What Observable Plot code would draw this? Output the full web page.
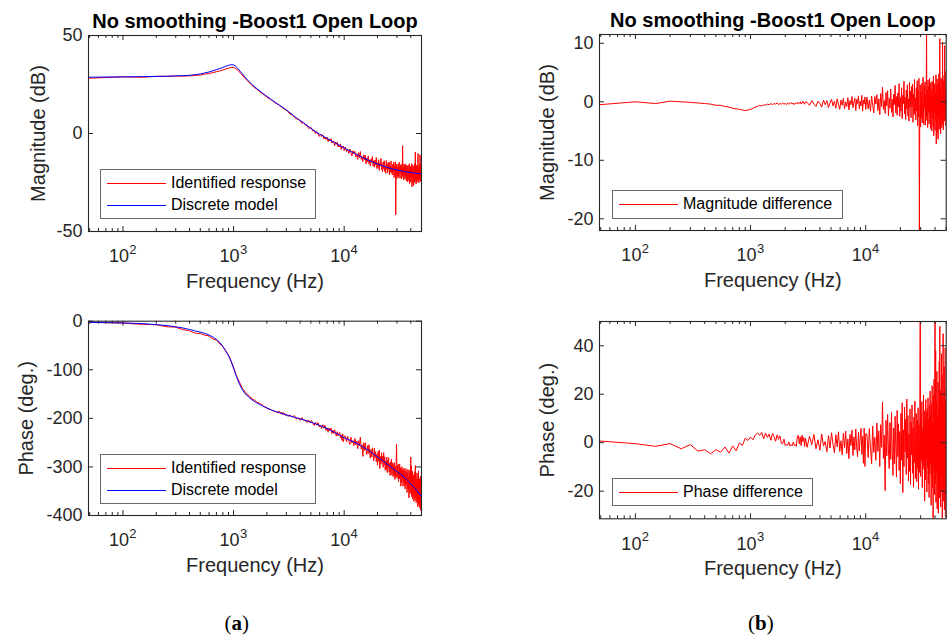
<!DOCTYPE html>
<html><head><meta charset="utf-8">
<script src="https://cdn.jsdelivr.net/npm/d3@7"></script>
<script src="https://cdn.jsdelivr.net/npm/@observablehq/plot@0.6"></script>
<style>
body{margin:0;background:#fff;}
#wrap{position:relative;width:948px;height:639px;overflow:hidden;background:#fff;font-family:'Liberation Sans',Arial,sans-serif;color:#262626;}
.panel{position:absolute;}
.legend{position:absolute;box-sizing:border-box;border:1px solid #6a6a6a;background:#fff;}
.row{position:absolute;left:0;height:20px;white-space:nowrap;font-size:16px;line-height:20px;color:#000;}
.row svg{position:absolute;left:6px;top:0;}
.row span{position:absolute;left:70px;top:0;}
.cap{position:absolute;transform:translate(-50%,-50%);font-family:'Liberation Serif','Times New Roman',serif;font-size:21px;color:#000;}
</style></head><body><div id="wrap"></div>
<script>
// ---------------- data ----------------
const title = "No smoothing -Boost1 Open Loop";
const xMajor = [100, 1000, 10000];
const xMinor = [50,60,70,80,90,200,300,400,500,600,700,800,900,2000,3000,4000,5000,6000,7000,8000,9000,20000,30000,40000,50000];
const magTicks = [-50, 0, 50];
const magDiffTicks = [-20, -10, 0, 10];
const phaseTicks = [-400, -300, -200, -100, 0];
const phaseDiffTicks = [-20, 0, 20, 40];

const freq = [
48.8,100,150,200,250,300,350,400,450,500,550,600,650,700,750,800,850,900,950,1000,
1050,1100,1150,1200,1250,1300,1350,1400,1450,1500,1550,1600,1650,1700,1750,1800,1850,1900,1950,2000,
2050,2100,2150,2200,2250,2300,2350,2400,2450,2500,2550,2600,2650,2700,2750,2800,2850,2900,2950,3000,
3100,3250,3400,3550,3700,3850,4000,4150,4300,4450,4600,4750,4900,5050,5200,5350,5500,5650,5800,5950,
6100,6250,6400,6550,6700,6850,7000,7150,7300,7450,7600,7750,7900,8050,8200,8350,8500,8650,8800,8950,
9100,9250,9400,9550,9700,9850,10000,
10250,10500,10750,11000,11250,11500,11750,12000,12250,12500,
12750,13000,13250,13500,13750,14000,14250,14500,14750,15000,
15250,15500,15750,16000,16250,16500,16750,17000,17250,17500,
17750,18000,18250,18500,18750,19000,19250,19500,19750,20000,
20250,20500,20750,21000,21250,21500,21750,22000,22250,22500,
22750,23000,23250,23500,23750,24000,24250,24500,24750,25000,
25250,25500,25750,26000,26250,26500,26750,27000,27250,27500,
27750,28000,28250,28500,28750,29000,29250,29500,29750,30000,
30250,30500,30750,31000,31250,31500,31750,32000,32250,32500,
32750,33000,33250,33500,33750,34000,34250,34500,34750,35000,
35250,35500,35750,36000,36250,36500,36750,37000,37250,37500,
37750,38000,38250,38500,38750,39000,39250,39500,39750,40000,
40250,40500,40750,41000,41250,41500,41750,42000,42250,42500,
42750,43000,43250,43500,43750,44000,44250,44500,44750,45000,
45250,45500,45750,46000,46250,46500,46750,47000,47250,47500,
47750,48000,48250,48500,48750,49000,49250,49500,49750,50000
];

const magIdentified = [
28.2,28.9,28.7,29.2,29.2,29.3,29.3,29.4,29.6,29.8,
30.3,30.6,31.1,31.5,31.9,32.4,32.9,33.3,33.7,33.7,
33.1,32.1,30.9,29.8,28.5,27.6,26.5,25.8,24.8,24.2,
23.3,22.9,22.2,21.8,20.9,20.6,20.0,19.7,19.0,18.7,
18.0,17.9,17.3,17.0,16.8,16.1,16.0,15.3,15.3,14.8,
14.7,14.1,13.9,13.8,13.1,13.0,13.0,12.3,11.9,12.0,
11.1,9.8,9.8,8.4,7.3,7.4,6.4,5.1,5.7,4.3,
4.4,2.6,2.8,2.9,1.3,1.6,-0.1,1.0,-0.3,-1.5,
-0.3,-1.5,-0.6,-2.8,-1.9,-3.0,-1.8,-4.2,-2.9,-3.8,
-2.7,-4.9,-4.3,-3.8,-6.2,-4.5,-5.5,-4.4,-6.9,-5.8,
-6.8,-5.3,-8.2,-6.5,-7.4,-6.4,-8.7,
-6.9,-9.2,-8.0,-10.2,-7.9,-9.8,-11.4,-8.8,-10.4,-9.1,
-12.0,-10.3,-13.2,-9.8,-12.3,-9.2,-13.2,-11.9,-14.3,-10.9,
-13.4,-11.0,-15.5,-12.6,-14.5,-11.4,-15.5,-13.5,-16.6,-12.9,
-14.8,-11.7,-16.5,-13.9,-17.2,-13.5,-16.1,-12.2,-17.9,-14.9,
-17.3,-13.4,-18.8,-14.9,-16.4,-12.7,-18.4,-15.6,-19.5,-14.6,
-17.9,-13.9,-19.3,-16.5,-20.3,-13.8,-18.2,-15.5,-20.1,-14.8,
-18.3,-14.6,-21.1,-16.4,-19.7,-14.0,-20.1,-17.4,-21.1,-15.7,
-19.6,-14.6,-22.4,-16.4,-21.0,-14.4,-41.5,-19.0,-15.7,-22.9,
-17.1,-21.5,-15.6,-22.4,-17.9,-14.7,-20.9,-22.9,-16.3,-20.1,
-15.7,-23.1,-17.9,-21.7,-6.2,-22.4,-17.2,-23.7,-15.6,-21.2,
-16.8,-23.2,-15.5,-21.8,-18.7,-24.1,-16.3,-21.0,-17.4,-24.7,
-16.2,-22.4,-18.7,-24.0,-15.4,-25.6,-17.4,-21.8,-16.8,-24.8,
-18.4,-23.0,-15.4,-27.2,-17.2,-22.2,-16.2,-25.4,-19.2,-26.5,
-16.9,-22.7,-15.4,-24.9,-18.5,-9.4,-23.8,-17.8,-25.8,-16.2,
-23.2,-19.0,-24.7,-16.5,-22.1,-10.2,-24.3,-18.2,-25.2,-16.8,
-22.0,-15.9,-23.8,-10.9,-23.1,-18.7,-24.6,-15.3,-22.5,-20.0
];

const magDiff = [
-0.5,0.0,-0.3,0.1,0.0,-0.1,-0.2,-0.3,-0.4,-0.6,
-0.6,-0.8,-0.9,-1.1,-1.2,-1.3,-1.4,-1.5,-1.4,-1.3,
-1.1,-0.9,-0.8,-0.6,-0.7,-0.5,-0.6,-0.4,-0.5,-0.3,
-0.5,-0.3,-0.4,-0.2,-0.5,-0.3,-0.4,-0.2,-0.4,-0.3,
-0.5,-0.2,-0.4,-0.3,-0.1,-0.4,-0.2,-0.5,-0.2,-0.3,
-0.1,-0.4,-0.2,0.0,-0.4,-0.2,0.1,-0.3,-0.4,0.0,
-0.1,-0.6,0.2,-0.4,-0.8,0.1,-0.3,-0.9,0.3,-0.5,
0.2,-1.0,-0.2,0.4,-0.7,0.1,-1.1,0.5,-0.4,-1.3,
0.3,-0.6,0.6,-1.2,0.0,-0.8,0.7,-1.4,0.2,-0.5,
0.9,-1.0,-0.1,0.6,-1.5,0.4,-0.3,1.0,-1.2,0.1,
-0.7,1.1,-1.6,0.3,-0.4,0.8,-1.3,
0.8,-1.2,0.3,-1.6,1.0,-0.6,-1.9,0.9,-0.4,1.2,
-1.5,0.5,-2.2,1.4,-0.8,2.5,-1.3,0.2,-2.0,1.6,
-0.7,1.9,-2.4,0.6,-1.1,2.2,-1.8,0.4,-2.6,1.3,
-0.5,2.8,-1.9,0.9,-2.3,1.5,-0.9,3.1,-2.5,0.7,
-1.6,2.4,-2.9,1.1,-0.3,3.5,-2.1,0.8,-3.0,2.0,
-1.2,2.9,-2.4,0.5,-3.3,3.3,-1.0,1.8,-2.7,2.6,
-0.8,3.0,-3.5,1.3,-1.9,3.8,-2.2,0.6,-3.1,2.4,
-1.5,3.6,-4.1,1.9,-2.6,4.0,-23,-0.5,2.9,-4.3,
1.6,-2.8,3.2,-3.6,0.9,4.2,-2.0,-3.9,2.7,-1.1,
3.4,-4.0,1.2,-2.5,13,-3.2,2.1,-4.4,3.7,-1.8,
2.6,-3.8,4.0,-2.3,0.8,-4.6,3.3,-1.4,2.2,-5.0,
3.5,-2.7,1.0,-4.2,4.4,-5.8,2.4,-1.9,3.1,-4.9,
1.5,-3.0,4.6,-7.2,2.8,-2.2,3.9,-5.3,0.9,-6.4,
3.2,-2.5,4.8,-4.7,1.7,10.8,-3.6,2.5,-5.5,4.1,
-2.9,1.3,-4.4,3.8,-1.7,10.2,-3.9,2.2,-4.8,3.6,
-1.6,4.5,-3.3,9.6,-2.6,1.8,-4.1,5.2,-2.0,0.5
];

const phaseIdentified = [
-1.8,-3.9,-6.5,-7.4,-11.5,-12.3,-17.5,-19.9,-24.6,-25.4,
-28.9,-30.3,-36.8,-38.8,-46.8,-52.1,-62.1,-69.1,-82.1,-94.7,
-109.8,-119.9,-129.0,-138.0,-142.8,-149.9,-151.0,-155.8,-157.4,-162.5,
-161.7,-164.8,-168.4,-167.5,-170.8,-170.8,-175.2,-176.6,-175.9,-179.7,
-180.2,-181.7,-181.3,-184.0,-184.3,-185.6,-184.9,-187.0,-187.5,-188.8,
-185.2,-185.6,-189.7,-187.4,-191.6,-187.9,-191.1,-189.8,-194.1,-191.2,
-196.1,-192.8,-197.4,-194.3,-201.4,-198.8,-204.2,-198.5,-204.5,-203.6,
-208.9,-203.2,-209.3,-204.2,-209.9,-214.5,-208.0,-214.0,-208.7,-217.8,
-214.3,-221.0,-213.1,-220.1,-214.2,-224.6,-219.5,-228.7,-219.7,-225.3,
-219.9,-231.4,-224.7,-231.1,-223.4,-231.8,-236.7,-227.4,-236.1,-231.9,
-228.6,-240.2,-233.7,-245.7,-232.1,-248.8,-236.1,
-237.4,-248.1,-237.1,-246.3,-253.6,-238.9,-250.9,-245.6,-256.1,-241.6,
-254.3,-246.7,-262.4,-246.2,-256.5,-238.8,-263.1,-254.5,-278.4,-250.4,
-266.0,-250.0,-265.4,-274.3,-256.3,-272.5,-254.2,-270.9,-282.1,-263.5,
-279.4,-260.7,-274.2,-287.8,-261.3,-281.3,-268.8,-289.0,-274.0,-296.5,
-268.3,-288.4,-265.5,-303.5,-278.4,-294.4,-270.6,-290.0,-277.4,-300.9,
-270.6,-295.8,-279.1,-306.8,-288.2,-304.5,-279.7,-311.7,-286.8,-300.9,
-281.2,-310.2,-292.2,-317.6,-289.5,-308.8,-284.2,-316.8,-298.3,-291.3,
-320.0,-295.4,-315.8,-291.4,-325.6,-299.6,-320.0,-294.7,-252.9,-323.5,
-298.4,-318.2,-294.5,-330.5,-306.8,-324.2,-294.1,-323.7,-301.8,-339.7,
-307.5,-332.1,-299.6,-324.6,-306.1,-339.6,-305.7,-330.6,-302.5,-338.4,
-312.3,-345.5,-308.1,-337.1,-303.5,-334.0,-314.4,-352.6,-311.1,-342.5,
-305.2,-348.1,-322.1,-363.7,-311.7,-342.8,-306.4,-354.7,-320.4,-279.6,
-352.1,-297.9,-361.2,-320.0,-350.4,-309.1,-366.4,-329.0,-359.9,-316.2,
-370.8,-327.8,-351.9,-310.2,-367.1,-297.0,-363.0,-324.6,-373.4,-335.3,
-368.6,-312.3,-363.4,-322.4,-382.2,-333.3,-361.9,-308.0,-377.8,-338.6,
-373.7,-324.5,-384.1,-334.6,-370.7,-319.3,-389.6,-342.2,-382.3,-352.8
];

const phaseDiff = [
0.7,-0.4,-1.5,-0.4,-2.5,-0.8,-3.5,-2.9,-4.6,-2.9,
-3.9,-1.8,-4.3,-1.3,-3.3,-0.1,-1.1,1.9,0.9,2.3,
1.2,3.1,4.0,3.0,4.2,1.6,4.0,2.2,3.6,1.0,
3.8,2.5,0.6,3.2,1.4,2.8,-0.2,-0.4,1.5,-1.2,
-0.6,-1.1,0.3,-1.4,-0.8,-1.3,0.2,-1.1,-0.9,-1.5,
2.8,3.0,-0.5,2.4,-1.2,3.1,0.4,2.2,-1.6,1.8,
-1.9,2.7,-0.8,3.4,-2.5,1.2,-3.1,3.6,-1.4,0.5,
-3.8,2.9,-2.2,4.1,-0.6,-4.2,3.3,-1.7,4.5,-3.6,
0.8,-5.0,3.9,-2.1,4.8,-4.5,1.6,-6.6,3.4,-1.2,
5.2,-5.3,2.4,-3.0,5.6,-1.8,-5.8,4.4,-3.4,1.7,
5.9,-4.8,2.6,-8.5,6.0,-9.8,3.8,
3.5,-6.2,5.8,-2.4,-8.7,6.9,-4.1,2.2,-7.3,8.1,
-3.6,4.9,-9.8,7.4,-1.9,16.8,-6.5,3.1,-19.8,9.2,
-5.4,11.6,-2.8,-10.7,8.3,-6.9,12.4,-3.3,-13.5,6.1,
-8.8,10.9,-1.6,-14.2,13.3,-5.7,7.8,-11.4,4.6,-16.9,
12.1,-7.2,16.5,-20.6,5.3,-9.9,14.7,-3.8,9.6,-13.1,
18.0,-6.4,11.2,-15.7,3.7,-11.8,13.9,-17.3,8.4,-4.9,
15.6,-12.6,6.2,-18.4,10.5,-8.1,17.2,-14.8,4.3,12.0,
-16.1,9.1,-10.6,14.4,-19.2,7.5,-12.3,13.6,56,-13.9,
11.8,-7.4,16.9,-18.5,5.8,-11.0,19.7,-9.3,13.2,-24.1,
8.7,-15.3,17.8,-6.6,12.5,-20.4,14.1,-10.2,18.5,-16.8,
9.9,-22.6,15.4,-12.9,21.3,-8.5,11.7,-25.8,16.3,-14.4,
23.5,-18.7,7.9,-33,19.6,-10.8,26.2,-21.4,13.5,55,
-16.9,38,-24.7,17.2,-12.6,29.4,-27.3,10.8,-19.5,24.9,
-29.1,14.6,-8.9,33.5,-22.8,48,-17.4,21.7,-26.5,12.3,
-20.3,36.7,-13.8,27.9,-31.2,18.4,-9.6,45,-24.1,15.8,
-18.6,31.3,-27.7,22.5,-12.9,39.2,-30.5,17.6,-21.8,8.4
];

const modelFreq = [48.8,100,150,200,250,300,350,400,450,500,550,600,650,700,750,800,850,900,950,1000,
1050,1100,1150,1200,1250,1300,1350,1400,1500,1600,1700,1800,1900,2000,2200,2400,2600,2800,3000,3400,
3850,4300,4900,5650,6400,7300,8200,9100,10000,11000,12000,13000,14000,15000,16500,18000,20000,22500,25000,27500,
30000,32500,35000,37500,40000,42500,45000,47500,50000];
const magModel = [28.7,28.9,29.0,29.1,29.2,29.4,29.5,29.7,30.0,30.4,30.9,31.4,32.0,32.6,33.1,33.7,34.3,34.8,35.1,35.0,
34.2,33.0,31.7,30.4,29.2,28.1,27.1,26.2,24.5,23.2,22.0,20.9,19.9,19.0,17.3,15.8,14.5,13.2,12.0,9.6,
7.3,5.4,3.0,0.5,-1.2,-3.1,-4.7,-6.1,-7.4,-8.6,-9.7,-10.8,-11.7,-12.5,-13.6,-14.5,-15.6,-16.6,-17.4,-18.1,
-18.6,-19.0,-19.4,-19.7,-19.9,-20.1,-20.3,-20.4,-20.5];
const phaseModel = [-2.5,-3.5,-5,-7,-9,-11.5,-14,-17,-20,-22.5,-25,-28.5,-32.5,-37.5,-43.5,-52,-61,-71,-83,-97,
-111,-123,-133,-141,-147,-151.5,-155,-158,-163.5,-167.3,-170.7,-173.6,-176.2,-178.5,-182.6,-185.9,-188.6,-191,-193,-196.6,
-200,-203.1,-207.1,-212.3,-217.0,-223.1,-229.0,-234.5,-239.9,-243.9,-247.8,-251.6,-255.6,-259.6,-265.6,-271.6,-279.6,-287.8,-296.0,-303.3,
-309.6,-315.6,-321.6,-328.1,-334.6,-341.1,-347.6,-354.4,-361.2];

[magIdentified, magDiff, phaseIdentified, phaseDiff].forEach((a, k) => { if (a.length !== freq.length) throw new Error("length mismatch " + k + ": " + a.length + " vs " + freq.length); });
[magModel, phaseModel].forEach((a, k) => { if (a.length !== modelFreq.length) throw new Error("model length mismatch " + k + ": " + a.length + " vs " + modelFreq.length); });

// ---------------- drawing ----------------
const AX = "#262626";
const RED = "#ff0000", BLUE = "#0000ff";
const wrap = document.getElementById("wrap");

function panel(o) {
  const [mt, mr, mb, ml] = o.margin;
  const innerW = o.width - ml - mr, innerH = o.height - mt - mb;
  const marks = [
    ...o.series,
    Plot.frame({stroke: AX, strokeWidth: 1.1}),
    Plot.tickX(xMajor, {x: d => d, insetTop: innerH - 5, stroke: AX}),
    Plot.tickX(xMajor, {x: d => d, insetBottom: innerH - 5, stroke: AX}),
    Plot.tickX(xMinor, {x: d => d, insetTop: innerH - 3, stroke: AX}),
    Plot.tickX(xMinor, {x: d => d, insetBottom: innerH - 3, stroke: AX}),
    Plot.tickY(o.yTicks, {y: d => d, insetRight: innerW - 5, stroke: AX}),
    Plot.tickY(o.yTicks, {y: d => d, insetLeft: innerW - 5, stroke: AX}),
    Plot.axisY({ticks: o.yTicks, tickSize: 0, tickPadding: 6, label: null, fontSize: 18, tickFormat: d => d < 0 ? "-" + Math.abs(d) : String(d)}),
    Plot.text(xMajor, {x: d => d, text: () => "10", frameAnchor: "bottom", lineAnchor: "top", textAnchor: "middle", dx: -4, dy: 18, fontSize: 18, fill: AX}),
    Plot.text(xMajor, {x: d => d, text: d => String(Math.round(Math.log10(d))), frameAnchor: "bottom", lineAnchor: "top", textAnchor: "middle", dx: 10, dy: 13, fontSize: 13, fill: AX}),
    Plot.text([o.ylabel], {text: d => d, frameAnchor: "left", textAnchor: "middle", lineAnchor: "middle", rotate: -90, dx: o.ylabelDx, fontSize: 20, fill: AX}),
    Plot.text(["Frequency (Hz)"], {text: d => d, frameAnchor: "bottom", textAnchor: "middle", lineAnchor: "middle", dy: 50, fontSize: 20, fill: AX})
  ];
  if (o.title) marks.push(Plot.text([o.title], {text: d => d, frameAnchor: "top", textAnchor: "middle", lineAnchor: "middle", dy: -14, fontSize: 20, fontWeight: "bold", fill: "#000"}));
  const svg = Plot.plot({
    width: o.width, height: o.height,
    marginTop: mt, marginRight: mr, marginBottom: mb, marginLeft: ml,
    x: {type: "log", domain: [48.8, 50000], axis: null},
    y: {domain: o.yDomain},
    style: {fontFamily: "'Liberation Sans', Arial, sans-serif", fontSize: "18px", color: AX, background: "transparent", overflow: "visible"},
    marks
  });
  svg.classList.add("panel");
  svg.style.left = o.left + "px";
  svg.style.top = o.top + "px";
  wrap.appendChild(svg);
}

panel({
  left: 0, top: 0, width: 470, height: 300, margin: [35, 49, 69, 88],
  yDomain: [-50, 50], yTicks: magTicks, ylabel: "Magnitude (dB)", ylabelDx: -50, title,
  series: [
    Plot.line(freq, {x: freq, y: magIdentified, stroke: RED, strokeWidth: 1, clip: true}),
    Plot.line(modelFreq, {x: modelFreq, y: magModel, stroke: BLUE, strokeWidth: 1, clip: true})
  ]
});
panel({
  left: 474, top: 0, width: 474, height: 300, margin: [34, 2.3, 70, 125],
  yDomain: [-22, 11.5], yTicks: magDiffTicks, ylabel: "Magnitude (dB)", ylabelDx: -51.5, title,
  series: [
    Plot.line(freq, {x: freq, y: magDiff, stroke: RED, strokeWidth: 1, clip: true})
  ]
});
panel({
  left: 0, top: 300, width: 470, height: 300, margin: [20.7, 49, 85, 88],
  yDomain: [-400, 0], yTicks: phaseTicks, ylabel: "Phase (deg.)", ylabelDx: -62,
  series: [
    Plot.line(freq, {x: freq, y: phaseIdentified, stroke: RED, strokeWidth: 1, clip: true}),
    Plot.line(modelFreq, {x: modelFreq, y: phaseModel, stroke: BLUE, strokeWidth: 1, clip: true})
  ]
});
panel({
  left: 474, top: 300, width: 474, height: 300, margin: [21, 2.3, 81.7, 125],
  yDomain: [-31.4, 50], yTicks: phaseDiffTicks, ylabel: "Phase (deg.)", ylabelDx: -51.5,
  series: [
    Plot.line(freq, {x: freq, y: phaseDiff, stroke: RED, strokeWidth: 1, clip: true})
  ]
});

// legends (HTML overlays)
function legend(left, top, w, h, rows) {
  const d = document.createElement("div");
  d.className = "legend";
  Object.assign(d.style, {left: left + "px", top: top + "px", width: w + "px", height: h + "px"});
  rows.forEach(r => {
    const row = document.createElement("div");
    row.className = "row";
    row.style.top = r.top + "px";
    row.style.width = (w - 2) + "px";
    row.innerHTML = '<svg width="60" height="20"><line x1="0" x2="59" y1="10.5" y2="10.5" stroke="' + r.color + '" stroke-width="1"/></svg>';
    const tx = document.createElement("span");
    tx.textContent = r.label;
    row.appendChild(tx);
    d.appendChild(row);
  });
  wrap.appendChild(d);
}
legend(100, 169, 216, 50, [{top: 3, color: RED, label: "Identified response"}, {top: 25, color: BLUE, label: "Discrete model"}]);
legend(100, 454, 216, 50, [{top: 3, color: RED, label: "Identified response"}, {top: 25, color: BLUE, label: "Discrete model"}]);
legend(612, 190, 231, 29, [{top: 3, color: RED, label: "Magnitude difference"}]);
legend(612, 478, 201, 28, [{top: 3, color: RED, label: "Phase difference"}]);

// captions
[["a", 236.7], ["b", 760.8]].forEach(([t, x]) => {
  const c = document.createElement("div");
  c.className = "cap";
  c.style.left = x + "px"; c.style.top = "623px";
  c.innerHTML = "(<b>" + t + "</b>)";
  wrap.appendChild(c);
});
</script></body></html>
